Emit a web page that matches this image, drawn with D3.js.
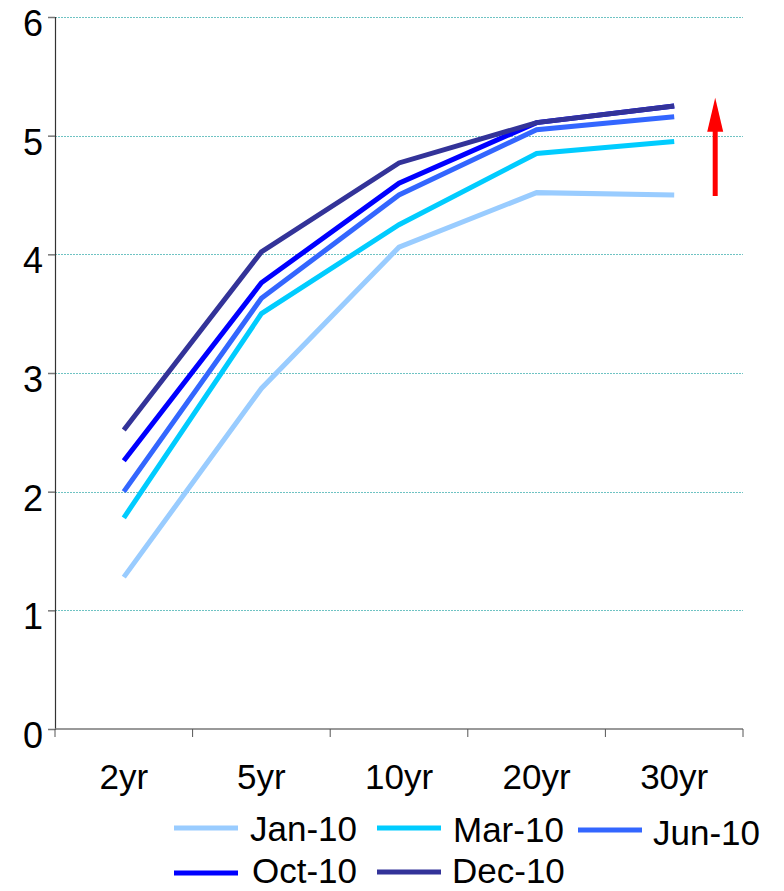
<!DOCTYPE html>
<html>
<head>
<meta charset="utf-8">
<script src="https://cdn.jsdelivr.net/npm/d3@7"></script>
<style>
  html, body { margin: 0; padding: 0; background: #fff; }
  svg { display: block; font-family: "Liberation Sans", Arial, sans-serif; }
</style>
</head>
<body>
<svg id="chart" width="784" height="891"></svg>
<script>
// Yield curve by maturity, snapshots through 2010
const maturities = ["2yr", "5yr", "10yr", "20yr", "30yr"];
const seriesNames = ["Jan-10", "Mar-10", "Jun-10", "Oct-10", "Dec-10"];
const jan10 = [1.28, 2.87, 4.06, 4.52, 4.50];
const mar10 = [1.78, 3.50, 4.25, 4.85, 4.95];
const jun10 = [2.00, 3.63, 4.50, 5.05, 5.16];
const oct10 = [2.26, 3.76, 4.60, 5.11, 5.25];
const dec10 = [2.52, 4.02, 4.77, 5.11, 5.25];
const yTicks = [0, 1, 2, 3, 4, 5, 6];
const seriesColors = ["#99ccff", "#00ccff", "#3366ff", "#0000ff", "#333399"];

const series = [jan10, mar10, jun10, oct10, dec10].map((values, i) => ({
  name: seriesNames[i], values, color: seriesColors[i]
}));

const svg = d3.select("#chart");
const plot = { left: 55, right: 743, top: 17, bottom: 729 };

const x = d3.scaleBand().domain(maturities).range([plot.left, plot.right]);
const y = d3.scaleLinear().domain([0, 6]).range([plot.bottom, plot.top]);
const crisp = v => Math.round(v) + 0.5;

// Horizontal gridlines (fine dotted teal)
svg.append("g")
  .selectAll("line")
  .data(yTicks.filter(d => d > 0))
  .join("line")
  .attr("x1", plot.left).attr("x2", plot.right)
  .attr("y1", d => crisp(y(d))).attr("y2", d => crisp(y(d)))
  .attr("stroke", "#6fc3c3")
  .attr("stroke-width", 1)
  .attr("stroke-dasharray", "2,1")
  .attr("shape-rendering", "crispEdges");

// Y axis
const yAxis = svg.append("g")
  .attr("transform", `translate(${plot.left},0)`)
  .call(d3.axisLeft(y).tickValues(yTicks).tickFormat(d3.format("d")).tickSize(7).tickPadding(5));
yAxis.select(".domain").attr("stroke", "#333").attr("stroke-width", 1.2);
yAxis.selectAll(".tick line").attr("stroke", "#777").attr("stroke-width", 1.5);
yAxis.selectAll(".tick text")
  .attr("fill", "#000")
  .attr("dy", null)
  .attr("y", 18.5)
  .style("font-size", "36px")
  .style("font-family", "'Liberation Sans', Arial, sans-serif");

// X axis with ticks at category boundaries
const xg = svg.append("g");
xg.append("line")
  .attr("x1", plot.left).attr("x2", plot.right)
  .attr("y1", plot.bottom).attr("y2", plot.bottom)
  .attr("stroke", "#777").attr("stroke-width", 1.5);
const boundaries = maturities.map(m => x(m)).concat([x(maturities[maturities.length - 1]) + x.bandwidth()]);
xg.selectAll("line.tk")
  .data(boundaries)
  .join("line")
  .attr("class", "tk")
  .attr("x1", d => d).attr("x2", d => d)
  .attr("y1", plot.bottom).attr("y2", plot.bottom + 8)
  .attr("stroke", "#555").attr("stroke-width", 1);
xg.selectAll("text")
  .data(maturities)
  .join("text")
  .attr("x", d => x(d) + x.bandwidth() / 2)
  .attr("y", 789)
  .attr("text-anchor", "middle")
  .attr("fill", "#000")
  .style("font-size", "35px")
  .text(d => d);

// Curves
const line = d3.line()
  .x((d, i) => x(maturities[i]) + x.bandwidth() / 2)
  .y(d => y(d));

svg.append("g")
  .selectAll("path")
  .data(series)
  .join("path")
  .attr("d", d => line(d.values))
  .attr("fill", "none")
  .attr("stroke", d => d.color)
  .attr("stroke-width", 5)
  .attr("stroke-linejoin", "miter");

// Upward arrow showing the shift of the curve
const ax = x("30yr") + x.bandwidth() / 2 + 41;
const arrow = svg.append("g");
arrow.append("line")
  .attr("x1", ax).attr("x2", ax)
  .attr("y1", y(4.5) + 1).attr("y2", y(5.05))
  .attr("stroke", "#ff0000").attr("stroke-width", 5);
arrow.append("path")
  .attr("d", `M${ax - 8},${y(5.05) + 2} L${ax},${y(5.32)} L${ax + 8},${y(5.05) + 2} Z`)
  .attr("fill", "#ff0000");

// Legend
const legendItems = [
  { s: series[0], lx: 174, ly: 828, tx: 250, ty: 841 },
  { s: series[1], lx: 377, ly: 828, tx: 453, ty: 842 },
  { s: series[2], lx: 578, ly: 830, tx: 653, ty: 845 },
  { s: series[3], lx: 174, ly: 873, tx: 252, ty: 883 },
  { s: series[4], lx: 377, ly: 872, tx: 452, ty: 883 }
];
const lg = svg.append("g").selectAll("g").data(legendItems).join("g");
lg.append("line")
  .attr("x1", d => d.lx).attr("x2", d => d.lx + 64)
  .attr("y1", d => d.ly).attr("y2", d => d.ly)
  .attr("stroke", d => d.s.color).attr("stroke-width", 5);
lg.append("text")
  .attr("x", d => d.tx).attr("y", d => d.ty)
  .attr("fill", "#000")
  .style("font-size", "35px")
  .text(d => d.s.name);
</script>
</body>
</html>
